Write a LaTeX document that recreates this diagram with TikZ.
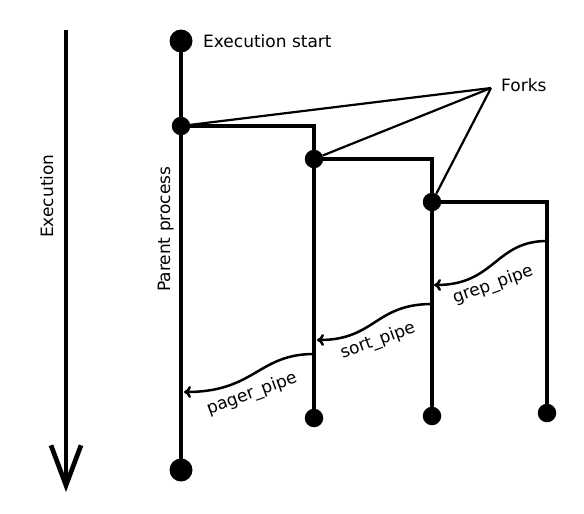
\documentclass[tikz,border=0pt]{standalone}
\usepackage{fontspec}
\setmainfont{DejaVu Sans}
\usetikzlibrary{positioning,
	arrows.meta}
\tikzstyle{proc}=[line width=4.7pt, line join=miter]
\tikzstyle{bigdot}=[circle, fill, inner sep=0, minimum size=23pt]
\tikzstyle{dot}=[circle, fill, inner sep=0, minimum size=18.5pt]
\tikzstyle{pipe}=[line width=2.5pt, -{To[length=7pt,width=12pt]}]
\tikzstyle{forkline}=[line width=2.2pt]
\tikzstyle{lbl}=[inner sep=0, font=\fontsize{17}{20}\selectfont]

\begin{document}
\begin{tikzpicture}[x=1pt,y=-1pt]
    \useasboundingbox (0,0) rectangle (584,514);
    % processes
    \node[bigdot] (start) at (181,41) {};
    \node[bigdot] (finish) at (181,470) {};
    \node[dot] (fork1) at (181,126) {};
    \node[dot] (fork2) at (314,159) {};
    \node[dot] (fork3) at (432,202) {};
    \node[dot] (end1) at (314,418) {};
    \node[dot] (end2) at (432,416) {};
    \node[dot] (end3) at (547,413) {};
    \draw[proc] (start.center) -- (finish.center);
    \draw[proc] (fork1.center) -| (end1.center);
    \draw[proc] (fork2.center) -| (end2.center);
    \draw[proc] (fork3.center) -| (end3.center);
    % pipes
    \coordinate (grepout) at (547,241);
    \coordinate (grepin) at (434,285);
    \coordinate (sortout) at (432,304);
    \coordinate (sortin) at (317,340);
    \coordinate (pagerout) at (314,354);
    \coordinate (pagerin) at (184,392);
    \draw[pipe] (grepout) .. controls +(-52,0) and +(61,0) .. (grepin);
    \draw[pipe] (sortout) .. controls +(-57,0) and +(58,0) .. (sortin);
    \draw[pipe] (pagerout) .. controls +(-56,0) and +(71,0) .. (pagerin);
    \node[lbl, rotate=20] (greplbl) at (493,285) {grep\_pipe};
    \node[lbl, rotate=20] (sortlbl) at (378,341) {sort\_pipe};
    \node[lbl, rotate=20] (pagerlbl) at (252,394) {pager\_pipe};
    % labels
    \node[lbl, anchor=base west] (startlbl) at (203,47) {Execution start};
    \node[lbl, anchor=base west] (forkslbl) at (501,91) {Forks};
    \coordinate (forkhub) at (491,88);
    \draw[forkline] (fork1) -- (forkhub);
    \draw[forkline] (fork2) -- (forkhub);
    \draw[forkline] (fork3) -- (forkhub);
    \node[lbl, rotate=90, anchor=base west] (parentlbl) at (170,292) {Parent process};
    % time axis
    \coordinate (exectop) at (66,30);
    \coordinate (execbot) at (66,492);
    \draw[line width=4.7pt, -{Straight Barb[length=40pt,width=30pt]}] (exectop) -- (execbot);
    \node[lbl, rotate=90, anchor=base west] (execlbl) at (53,238) {Execution};
\end{tikzpicture}
\end{document}
